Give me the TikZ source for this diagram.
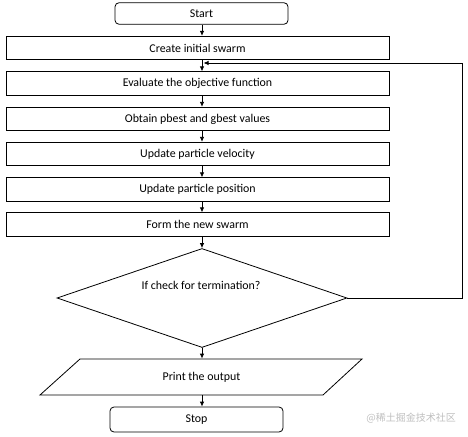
\documentclass[tikz,border=0pt]{standalone}
\usepackage{fontspec}
\setmainfont{Carlito}
\newfontfamily\cjk{Noto Sans CJK SC}
\usetikzlibrary{arrows.meta,shapes.geometric}
\begin{document}
\begin{tikzpicture}[x=1pt,y=-1pt,
  font=\fontsize{11.9}{13.5}\selectfont,
  line width=0.8pt,
  box/.style={draw, minimum width=383pt, minimum height=23.5pt, inner sep=0pt},
  term/.style={draw, rounded corners=4pt, minimum width=173pt, inner sep=0pt},
  arr/.style={-{Latex[length=5pt,width=4.5pt]}}]
\useasboundingbox (0,0) rectangle (468,436);
\coordinate (spine) at (202,0);

\node[term, minimum height=21.5pt] (start) at (201.5,13.5) {Start};
\node[box] (create) at (197.5,48) {Create initial swarm};
\node[box] (eval) at (197.5,83.5) {Evaluate the objective function};
\node[box] (obtain) at (197.5,119) {Obtain pbest and gbest values};
\node[box] (vel) at (197.5,154) {Update particle velocity};
\node[box] (pos) at (197.5,189.5) {Update particle position};
\node[box] (form) at (197.5,224.5) {Form the new swarm};
\node[draw, diamond, minimum width=290pt, minimum height=99pt, inner sep=0pt] (dia) at (202,298) {};
\node (dtext) at (201,285) {If check for termination?};
\node[minimum width=240pt, minimum height=36pt, inner sep=0pt] (print) at (201.5,377) {Print the output};
\draw (40,395) -- (80,359) -- (362,359) -- (323,395) -- cycle;
\node[term, minimum height=25pt] (stop) at (196.5,419.5) {Stop};

\draw[arr] (start.south -| spine) -- (create.north -| spine);
\draw[arr] (create.south -| spine) -- (eval.north -| spine);
\draw[arr] (eval.south -| spine) -- (obtain.north -| spine);
\draw[arr] (obtain.south -| spine) -- (vel.north -| spine);
\draw[arr] (vel.south -| spine) -- (pos.north -| spine);
\draw[arr] (pos.south -| spine) -- (form.north -| spine);
\draw[arr] (form.south -| spine) -- (dia.north);
\draw[arr] (dia.south) -- (print.north -| spine);
\draw[arr] (print.south -| spine) -- (stop.north -| spine);

\coordinate (lr) at (462,63);
\coordinate (loopend) at (203.5,63);
\draw[arr] (dia.east) -| (lr) -- (loopend);

\node[text=gray!50, font=\cjk\fontsize{10}{12}\selectfont, anchor=west, inner sep=0pt] (wm) at (366,418) {@稀土掘金技术社区};
\end{tikzpicture}
\end{document}
